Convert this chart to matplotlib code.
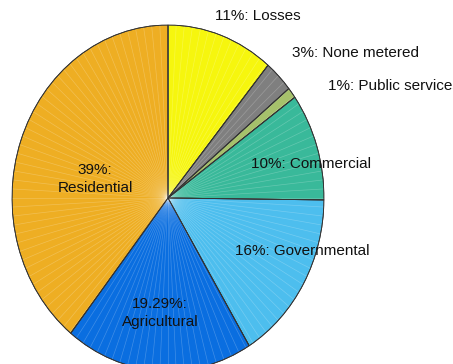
import matplotlib
matplotlib.use("Agg")
import matplotlib.pyplot as plt
import numpy as np

plt.rcParams['font.family'] = ['Liberation Sans', 'DejaVu Sans']

# electricity consumption shares, clockwise from 12 o'clock
sectors = ['Losses', 'None metered', 'Public services', 'Commercial',
           'Governmental', 'Agricultural', 'Residential']
shares = [11, 3, 1, 10, 16, 19.29, 39]
colors = ['#f6f60e', '#7f7f7f', '#a6c16b', '#39b99a',
          '#4dbeee', '#0a6ee0', '#eeae23']

# label anchors in axes data units (pie radius = 1)
label_pos = [(0.574, 1.052), (1.199, 0.838), (1.026, 0.647), (0.917, 0.197),
             (0.859, -0.306), (-0.051, -0.665), (-0.468, 0.110)]
label_ha = ['center', 'center', 'left', 'center', 'center', 'center', 'center']
two_line = {'Agricultural', 'Residential'}

fig = plt.figure(figsize=(4.53, 3.64), dpi=100)
ax = fig.add_axes([12 / 453, -7 / 364, 312 / 453, 346 / 364])

wedges, _ = ax.pie(shares, colors=colors, startangle=90, counterclock=False,
                   wedgeprops=dict(edgecolor='#333333', linewidth=0.6))
ax.set_aspect('auto')
ax.set_xlim(-1, 1)
ax.set_ylim(-1, 1)
ax.axis('off')

# thin white radial streaks over the fill
for ang in np.arange(0, 360, 3.0):
    a = np.deg2rad(ang)
    ax.plot([0, np.cos(a)], [0, np.sin(a)], color='white', alpha=0.22,
            lw=0.5, zorder=2)
# redraw outlines on top of the streaks
for w in wedges:
    w.set_zorder(1)
for w in wedges:
    ax.add_patch(plt.matplotlib.patches.Wedge(w.center, w.r, w.theta1, w.theta2,
                                              fill=False, edgecolor='#333333',
                                              linewidth=0.6, zorder=3))

for name, val, (x, y), ha in zip(sectors, shares, label_pos, label_ha):
    sep = '\n' if name in two_line else ' '
    ax.text(x, y, f"{val:g}%:{sep}{name}", ha=ha, va='center',
            fontsize=11, color='#111111', linespacing=1.35, zorder=4,
            clip_on=False)

fig.savefig('out.png', dpi=100)
